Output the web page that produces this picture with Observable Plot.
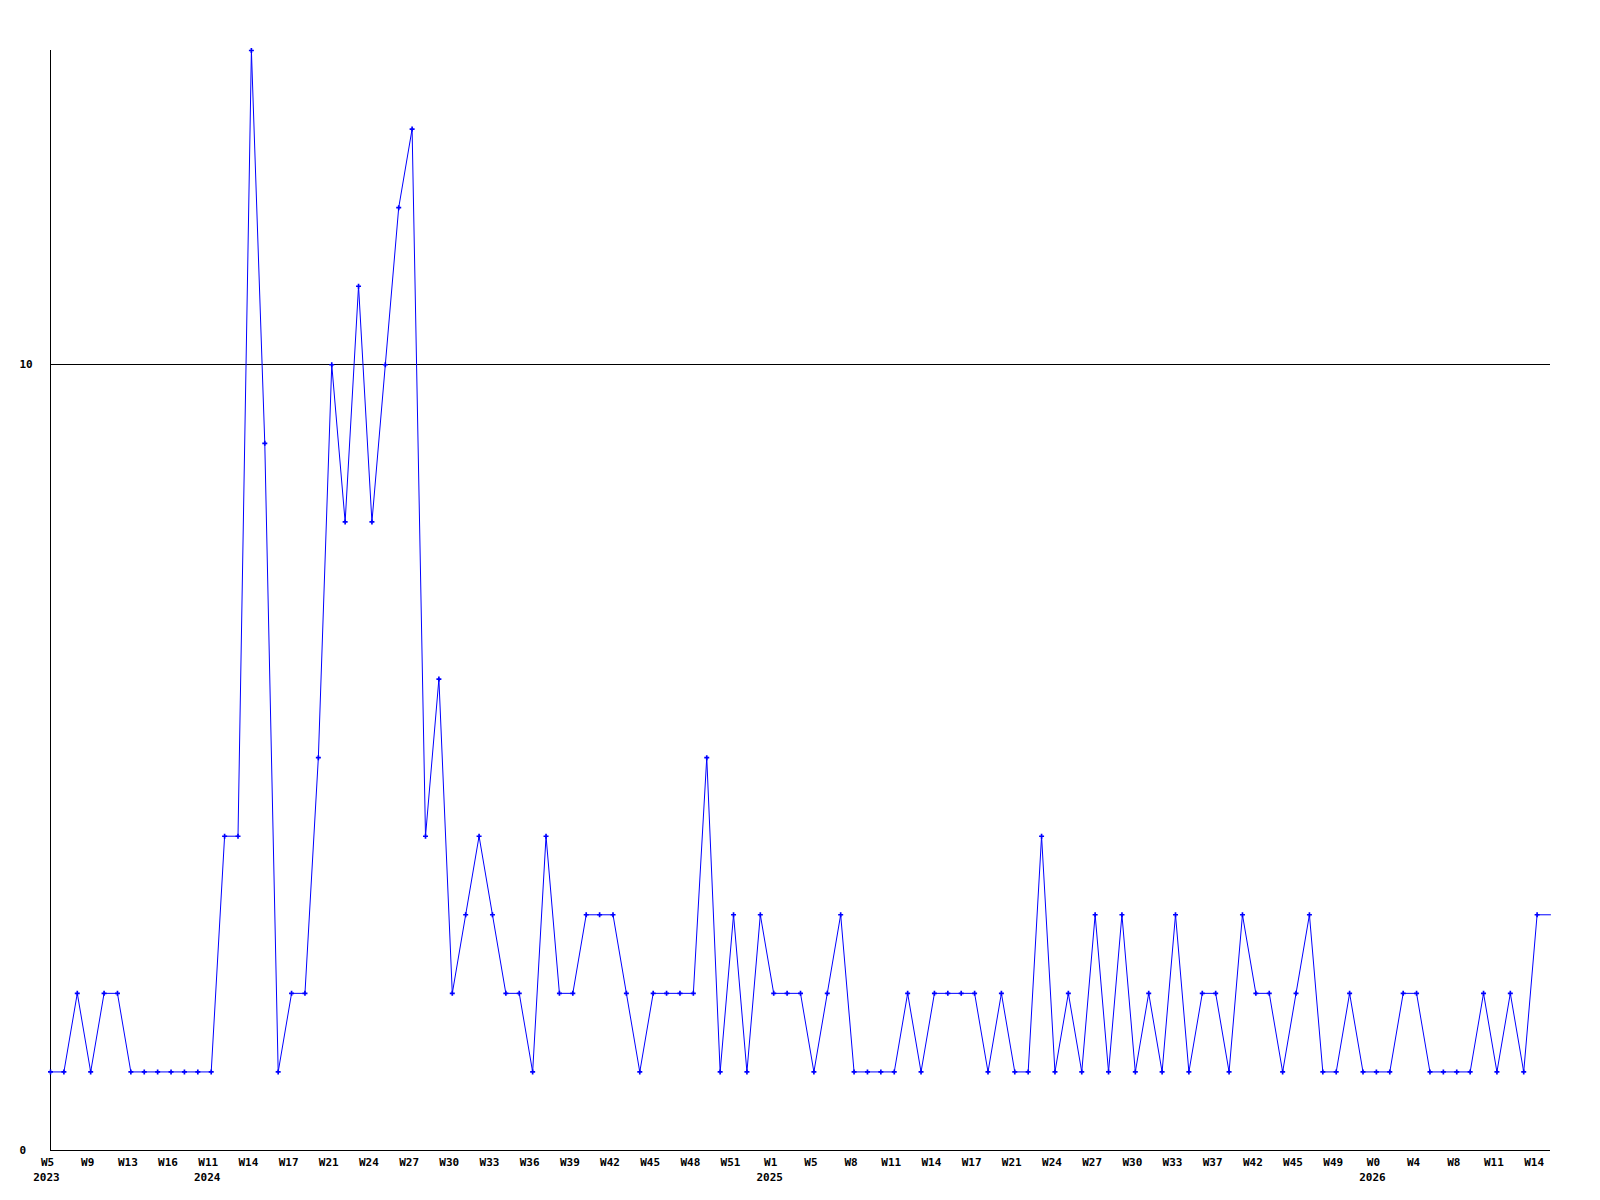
<!DOCTYPE html>
<html>
<head>
<meta charset="utf-8">
<script src="https://cdn.jsdelivr.net/npm/d3@7"></script>
<script src="https://cdn.jsdelivr.net/npm/@observablehq/plot@0.6"></script>
<style>
  html, body { margin: 0; padding: 0; background: #ffffff; }
  #chart svg { display: block; }
</style>
</head>
<body>
<div id="chart"></div>
<script>
// Weekly values (one per observed week, in order)
const values = [
  1,1,2,1,2,2,1,1,1,1,1,1,1,
  4,4,14,9,1,2,2,5,10,8,11,8,10,12,13,
  4,6,2,3,4,3,2,2,1,4,2,2,3,3,3,2,
  1,2,2,2,2,5,1,3,1,3,2,2,2,1,
  2,3,1,1,1,1,2,1,2,2,2,2,1,2,1,1,
  4,1,2,1,3,1,3,1,2,1,3,1,2,2,1,3,
  2,2,1,2,3,1,1,2,1,1,1,2,2,1,1,1,1,2,1,2,1,3,3
];
// Week tick labels, shown on every third observation
const weekLabels = ["W5","W9","W13","W16","W11","W14","W17","W21","W24","W27","W30","W33",
  "W36","W39","W42","W45","W48","W51","W1","W5","W8","W11","W14","W17","W21","W24",
  "W27","W30","W33","W37","W42","W45","W49","W0","W4","W8","W11","W14"];
const tickStep = 3;
// Year labels and the observation they sit under
const yearLabels = ["2023","2024","2025","2026"];
const yearIndex = [0, 12, 54, 99];
const yTicks = [0, 10];

const data = values.map((v, i) => ({i, v}));
const dotsData = data.slice(0, data.length - 1);
const ticks = weekLabels.map((label, k) => ({i: k * tickStep, label}));
const years = yearLabels.map((label, k) => ({i: yearIndex[k], label}));

const font = "'DejaVu Sans Mono', 'Liberation Mono', monospace";

const chart = Plot.plot({
  width: 1600,
  height: 1200,
  marginLeft: 50,
  marginRight: 50,
  marginTop: 50,
  marginBottom: 50,
  style: {background: "#ffffff", fontFamily: font},
  x: {type: "linear", domain: [0, values.length - 1], axis: null},
  y: {domain: [0, 14], axis: null},
  marks: [
    Plot.ruleY([10], {stroke: "#000000", strokeWidth: 1, shapeRendering: "crispEdges"}),
    Plot.ruleY([0], {stroke: "#000000", strokeWidth: 1, shapeRendering: "crispEdges"}),
    Plot.ruleX([0], {y1: 0, y2: 14, stroke: "#000000", strokeWidth: 1, shapeRendering: "crispEdges"}),
    Plot.line(data, {x: "i", y: "v", stroke: "#0000ff", strokeWidth: 1}),
    Plot.dot(dotsData, {x: "i", y: "v", symbol: "cross", r: 2.1, fill: "#0000ff", stroke: "none"}),
    Plot.text(ticks, {x: "i", y: () => 0, text: "label", dy: 12, dx: -3,
      fontSize: 11, fontWeight: "bold", fill: "#000000", fontFamily: font}),
    Plot.text(years, {x: "i", y: () => 0, text: "label", dy: 27, dx: -4,
      fontSize: 11, fontWeight: "bold", fill: "#000000", fontFamily: font}),
    Plot.text(yTicks, {x: () => 0, y: d => d, text: d => String(d), dx: -31, textAnchor: "start",
      fontSize: 11, fontWeight: "bold", fill: "#000000", fontFamily: font})
  ]
});
document.getElementById("chart").appendChild(chart);
</script>
</body>
</html>
